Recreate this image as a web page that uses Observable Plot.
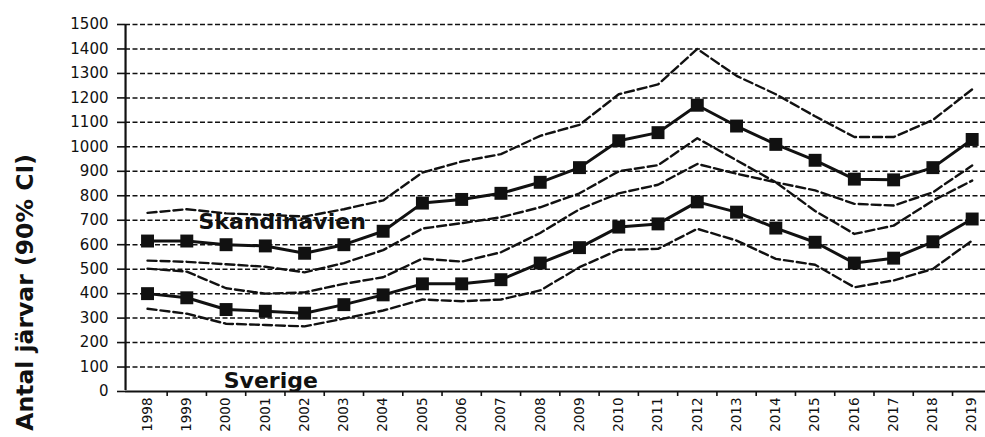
<!DOCTYPE html>
<html><head><meta charset="utf-8">
<script src="https://cdn.jsdelivr.net/npm/d3@7"></script>
<script src="https://cdn.jsdelivr.net/npm/@observablehq/plot@0.6"></script>
<style>
body{margin:0;background:#fff;}
</style></head><body><div id="chart"></div>
<script>
const years = [1998,1999,2000,2001,2002,2003,2004,2005,2006,2007,2008,2009,2010,2011,2012,2013,2014,2015,2016,2017,2018,2019];
const skandinavien      = [615,615,600,595,565,600,655,770,785,810,855,915,1025,1058,1170,1085,1010,945,868,865,915,1030];
const skandinavienUpper = [730,745,728,722,715,745,781,895,940,970,1045,1090,1215,1255,1400,1290,1215,1125,1040,1040,1110,1235];
const skandinavienLower = [535,530,520,510,487,525,578,666,688,712,753,810,900,925,1035,945,855,822,767,760,814,924];
const sverige           = [400,383,335,328,320,355,395,440,440,457,525,588,672,685,775,733,668,610,525,545,612,705];
const sverigeUpper      = [502,490,422,400,405,440,467,543,531,569,648,745,810,845,930,890,855,738,644,678,780,862];
const sverigeLower      = [338,318,277,272,266,298,331,376,369,376,413,508,579,583,665,617,542,518,426,454,501,617];
const yTicks = [0,100,200,300,400,500,600,700,800,900,1000,1100,1200,1300,1400,1500];
const seriesLabels = [
  {text: "Skandinavien", year: 1999.3, value: 666},
  {text: "Sverige", year: 1999.94, value: 16}
];
const yTitle = "Antal järvar (90% CI)";

const toRows = (name, vals) => vals.map((v, i) => ({series: name, year: years[i], value: v}));
const mainRows = [...toRows("Skandinavien", skandinavien), ...toRows("Sverige", sverige)];
const ciRows = [
  ...toRows("SkU", skandinavienUpper), ...toRows("SkL", skandinavienLower),
  ...toRows("SvU", sverigeUpper), ...toRows("SvL", sverigeLower)
];
const boundaries = years.map(y => y + 0.5);
const ink = "#111111";

const chart = Plot.plot({
  width: 985,
  height: 437,
  marginLeft: 125,
  marginRight: 0,
  marginTop: 24,
  marginBottom: 46,
  style: {fontFamily: "DejaVu Sans", fontSize: "15px", color: ink, background: "white"},
  x: {domain: [1997.5, 2019.5], range: [127.4, 991.3], axis: null},
  y: {domain: [0, 1500], axis: null},
  marks: [
    Plot.ruleY(yTicks.filter(d => d > 0), {stroke: ink, strokeWidth: 1.5, strokeDasharray: "5,2.5"}),
    Plot.line(ciRows, {x: "year", y: "value", z: "series", stroke: ink, strokeWidth: 2.4, strokeDasharray: "9,4"}),
    Plot.line(mainRows, {x: "year", y: "value", z: "series", stroke: ink, strokeWidth: 3}),
    Plot.dot(mainRows, {x: "year", y: "value", symbol: "square", r: 7.3, fill: ink, stroke: null}),
    Plot.ruleY([0], {stroke: ink, strokeWidth: 2.2}),
    Plot.ruleX([1997.44], {y1: 0, y2: 1500, stroke: ink, strokeWidth: 2.2, insetTop: -1}),
    Plot.axisY({ticks: yTicks, tickSize: 8, tickPadding: 9, tickFormat: d => String(d), label: null, fontSize: 15, stroke: ink, strokeWidth: 1.6, fill: ink}),
    Plot.axisX({ticks: boundaries, tickSize: 5, tickFormat: () => "", label: null, stroke: ink, strokeWidth: 1.6}),
    Plot.text(years, {x: d => d, text: d => String(d), frameAnchor: "bottom", dy: 6, rotate: -90, textAnchor: "end", lineAnchor: "middle", fontSize: 13.5, fill: ink}),
    Plot.text(seriesLabels, {x: "year", y: "value", text: "text", textAnchor: "start", lineAnchor: "bottom", fontSize: 22, fontWeight: "bold", fill: ink}),
    Plot.text([yTitle], {x: () => 1994.9, y: () => 405, text: d => d, rotate: -90, textAnchor: "middle", lineAnchor: "middle", fontSize: 23.5, fontWeight: "bold", fill: ink})
  ]
});
document.getElementById("chart").appendChild(chart);
</script>
</body></html>
